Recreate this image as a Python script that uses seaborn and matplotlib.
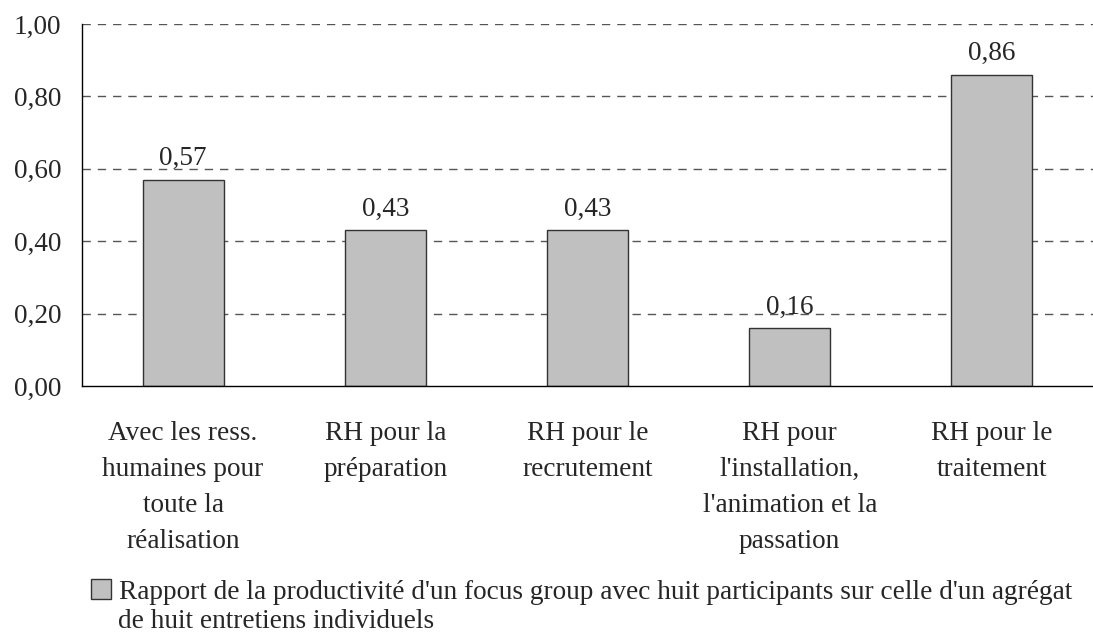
import matplotlib
matplotlib.use("Agg")
import matplotlib.pyplot as plt
import seaborn as sns
import pandas as pd
import numpy as np
from matplotlib.patches import Patch

categories = [
    "Avec les ress.\nhumaines pour\ntoute la\nréalisation",
    "RH pour la\npréparation",
    "RH pour le\nrecrutement",
    "RH pour\nl'installation,\nl'animation et la\npassation",
    "RH pour le\ntraitement",
]
values = [0.57, 0.43, 0.43, 0.16, 0.86]
labels = ["0,57", "0,43", "0,43", "0,16", "0,86"]
yticks = [0.0, 0.2, 0.4, 0.6, 0.8, 1.0]
ytick_labels = ["0,00", "0,20", "0,40", "0,60", "0,80", "1,00"]
legend_line1 = "Rapport de la productivité d'un focus group avec huit participants sur celle d'un agrégat"
legend_line2 = "de huit entretiens individuels"

sns.set_style("white")
plt.rcParams["font.family"] = ["Liberation Serif", "DejaVu Serif"]
FS = 19.6

W, H = 1093, 635
fig = plt.figure(figsize=(W / 100, H / 100), dpi=100)
left, right, top, bottom = 82, 1093, 24, 386
ax = fig.add_axes([left / W, 1 - bottom / H, (right - left) / W, (bottom - top) / H])

df = pd.DataFrame({"cat": categories, "val": values})
sns.barplot(data=df, x="cat", y="val", ax=ax, color="#c0c0c0", width=0.4,
            edgecolor="#333333", linewidth=1.0, saturation=1)

ax.set_ylim(0, 1.0)
ax.set_xlim(-0.5, 4.475)
ax.set_yticks(yticks)
ax.set_yticklabels(ytick_labels, fontsize=FS)
for y in yticks[1:]:
    ax.axhline(y, color="#555555", linestyle=(0, (6, 5)), linewidth=1.0, zorder=0)

# x ticks at category boundaries, labels at centres
ax.set_xticks(np.arange(-0.5, 5.0, 1.0))
ax.set_xticklabels([])
ax.set_xticks(np.arange(5), minor=True)
ax.set_xticklabels(categories, minor=True, fontsize=FS, linespacing=1.58, va="top")
ax.tick_params(axis="x", which="major", direction="out", length=10, width=1, color="#333333")
ax.tick_params(axis="x", which="minor", length=0, pad=25)
ax.tick_params(axis="y", direction="out", length=8, width=1, color="#333333", pad=7)
ax.set_xlabel("")
ax.set_ylabel("")

for s in ["top", "right"]:
    ax.spines[s].set_visible(False)
for s in ["left", "bottom"]:
    ax.spines[s].set_color("black")
    ax.spines[s].set_linewidth(1.0)

for i, (v, lab) in enumerate(zip(values, labels)):
    ax.annotate(lab, (i, v), xytext=(0, 6), textcoords="offset points",
                ha="center", va="bottom", fontsize=FS)

handle = Patch(facecolor="#c0c0c0", edgecolor="#333333", linewidth=1.0)
fig.legend([handle], [legend_line1], loc="center left",
           bbox_to_anchor=(91 / W, 1 - 592 / H), frameon=False, fontsize=FS,
           handlelength=0.74, handleheight=0.74, handletextpad=0.3,
           borderpad=0, borderaxespad=0)
fig.text(118 / W, 1 - 621 / H, legend_line2, ha="left", va="center", fontsize=FS)

fig.savefig("out.png", dpi=100)
